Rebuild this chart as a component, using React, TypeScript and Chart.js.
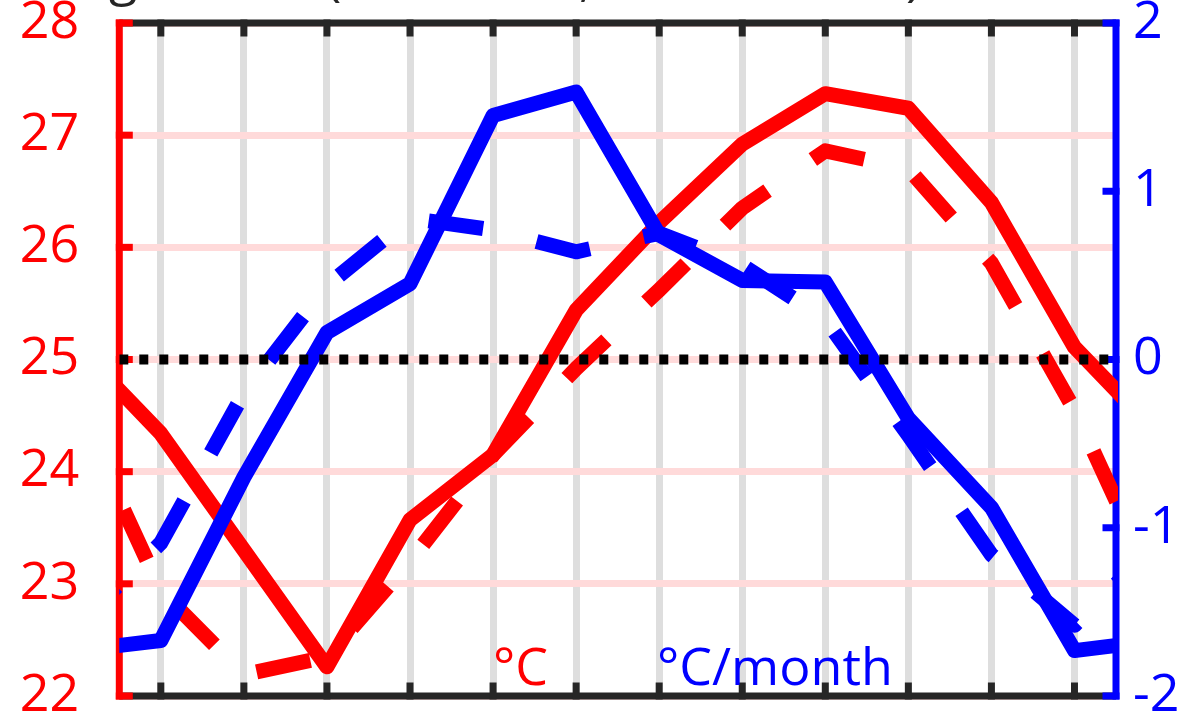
import React, { useEffect, useRef } from 'react';
import { Chart, registerables } from 'chart.js';

Chart.register(...registerables);

// ---- data (month index 1..12) ----
const months = [1, 2, 3, 4, 5, 6, 7, 8, 9, 10, 11, 12];
const tempSolid = [24.34, 23.3, 22.26, 23.57, 24.15, 25.44, 26.22, 26.92, 27.37, 27.24, 26.4, 25.11];
const tempDashed = [22.94, 22.19, 22.35, 23.2, 24.15, 24.92, 25.62, 26.35, 26.86, 26.7, 25.86, 24.55];
const rateSolid = [-1.67, -0.7, 0.16, 0.45, 1.45, 1.59, 0.74, 0.47, 0.46, -0.35, -0.88, -1.73];
const rateDashed = [-1.09, -0.2, 0.44, 0.84, 0.77, 0.64, 0.75, 0.56, 0.24, -0.45, -1.16, -1.58];
const leftTicks = [22, 23, 24, 25, 26, 27, 28];
const rightTicks = [-2, -1, 0, 1, 2];
const zeroLine = [0, 0];
const zeroLineX = [0.5, 12.5];
const leftUnit = '°C';
const rightUnit = '°C/month';
const titleBits = ['g', '(', ',', ')'];

// periodic wrap: December before January, January after December
const wrap = (vals: number[]) => [
  { x: 0, y: vals[11] },
  ...months.map((m, i) => ({ x: m, y: vals[i] })),
  { x: 13, y: vals[0] },
];

const RED = '#ff0000';
const BLUE = '#0000ff';
const FRAME = '#262626';
const FONT = "'Open Sans', 'Noto Sans', sans-serif";
const FS = 52;

const framePlugin = {
  id: 'frame',
  beforeDatasetsDraw(chart: any) {
    const { ctx, chartArea, scales } = chart;
    const { left, right, top, bottom } = chartArea;
    const lw = 7;
    const h = lw / 2;
    const tick = 10;
    const seg = (x1: number, y1: number, x2: number, y2: number) => {
      ctx.beginPath();
      ctx.moveTo(x1, y1);
      ctx.lineTo(x2, y2);
      ctx.stroke();
    };
    ctx.save();
    ctx.lineWidth = lw;
    ctx.lineCap = 'butt';
    ctx.strokeStyle = FRAME;
    seg(left, top, right, top);
    seg(left, bottom, right, bottom);
    months.forEach((m) => {
      const x = scales.x.getPixelForValue(m);
      seg(x, top - h, x, top + h + tick);
      seg(x, bottom + h, x, bottom - h - tick);
    });
    ctx.strokeStyle = RED;
    seg(left, top - h, left, bottom + h);
    leftTicks.forEach((t) => {
      const y = scales.y.getPixelForValue(t);
      seg(left - h, y, left + h + tick, y);
    });
    ctx.strokeStyle = BLUE;
    seg(right, top - h, right, bottom + h);
    rightTicks.forEach((t) => {
      const y = scales.y2.getPixelForValue(t);
      seg(right + h, y, right - h - tick, y);
    });
    ctx.restore();
  },
  afterDraw(chart: any) {
    const { ctx } = chart;
    ctx.save();
    ctx.font = `${FS}px ${FONT}`;
    ctx.textBaseline = 'alphabetic';
    ctx.textAlign = 'left';
    ctx.fillStyle = RED;
    ctx.fillText(leftUnit, 493, 685);
    ctx.fillStyle = BLUE;
    ctx.fillText(rightUnit, 657, 685);
    // title, mostly cut off above the picture
    ctx.fillStyle = FRAME;
    const bx = [109, 326, 579, 906];
    titleBits.forEach((c, i) => ctx.fillText(c, bx[i], -5));
    ctx.restore();
  },
};

export default function App() {
  const ref = useRef<HTMLCanvasElement>(null);
  useEffect(() => {
    if (!ref.current) return;
    const lineBase = {
      pointRadius: 0,
      pointHoverRadius: 0,
      tension: 0,
      fill: false,
      borderWidth: 15,
      borderJoinStyle: 'round' as const,
      borderCapStyle: 'butt' as const,
      clip: { left: 0, right: 2, top: 5, bottom: 5 },
    };
    const chart = new Chart(ref.current, {
      type: 'line',
      data: {
        datasets: [
          {
            ...lineBase,
            label: 'zero',
            data: zeroLineX.map((x, i) => ({ x, y: zeroLine[i] })),
            borderColor: '#000000',
            borderWidth: 10,
            borderDash: [9, 11],
            yAxisID: 'y2',
          },
          { ...lineBase, label: 'rate', data: wrap(rateSolid), borderColor: BLUE, yAxisID: 'y2' },
          {
            ...lineBase,
            label: 'rate dashed',
            data: wrap(rateDashed),
            borderColor: BLUE,
            borderDash: [55, 55],
            yAxisID: 'y2',
          },
          { ...lineBase, label: 'temp', data: wrap(tempSolid), borderColor: RED, yAxisID: 'y' },
          {
            ...lineBase,
            label: 'temp dashed',
            data: wrap(tempDashed),
            borderColor: RED,
            borderDash: [55, 55],
            yAxisID: 'y',
          },
        ],
      },
      options: {
        animation: false,
        responsive: false,
        devicePixelRatio: 1,
        layout: { padding: { top: 23, left: 0, right: 0, bottom: 0 } },
        plugins: {
          legend: { display: false },
          tooltip: { enabled: false },
          title: { display: false },
        },
        events: [],
        scales: {
          x: {
            type: 'linear',
            position: 'bottom',
            min: 0.5,
            max: 12.5,
            ticks: { display: false },
            grid: { color: '#dedede', lineWidth: 7, drawTicks: false },
            border: { display: false },
            afterBuildTicks: (s: any) => {
              s.ticks = months.map((v) => ({ value: v }));
            },
            afterFit: (s: any) => {
              s.height = 23;
              s.paddingLeft = 0;
              s.paddingRight = 0;
            },
          },
          y: {
            type: 'linear',
            position: 'left',
            min: 22,
            max: 28,
            ticks: { color: RED, font: { family: FONT, size: FS }, padding: 40 },
            grid: { color: '#ffdada', lineWidth: 7, drawTicks: false },
            border: { display: false },
            afterBuildTicks: (s: any) => {
              s.ticks = leftTicks.map((v) => ({ value: v }));
            },
            afterFit: (s: any) => {
              s.width = 119.3;
              s.paddingTop = 0;
              s.paddingBottom = 0;
            },
          },
          y2: {
            type: 'linear',
            position: 'right',
            min: -2,
            max: 2,
            ticks: { color: BLUE, font: { family: FONT, size: FS }, padding: 17 },
            grid: { display: false, drawTicks: false },
            border: { display: false },
            afterBuildTicks: (s: any) => {
              s.ticks = rightTicks.map((v) => ({ value: v }));
            },
            afterFit: (s: any) => {
              s.width = 88;
              s.paddingTop = 0;
              s.paddingBottom = 0;
            },
          },
        },
      } as any,
      plugins: [framePlugin],
    });
    return () => chart.destroy();
  }, []);
  return (
    <div style={{ position: 'fixed', left: 0, top: 0, width: 1204, height: 719, background: '#ffffff' }}>
      <canvas ref={ref} width={1204} height={719} style={{ display: 'block', width: 1204, height: 719 }} />
    </div>
  );
}
